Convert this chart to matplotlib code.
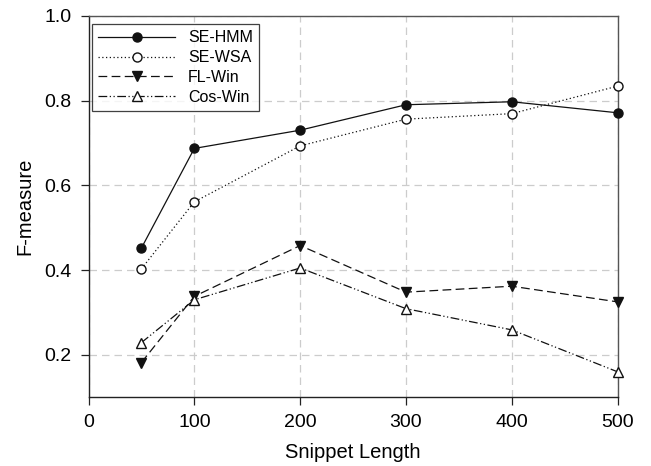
import matplotlib.pyplot as plt

plt.rcParams['font.family'] = ['Liberation Sans', 'DejaVu Sans']

snippet_len = [50, 100, 200, 300, 400, 500]
se_hmm = [0.452, 0.687, 0.730, 0.790, 0.797, 0.771]
se_wsa = [0.403, 0.561, 0.693, 0.756, 0.769, 0.834]
fl_win = [0.182, 0.338, 0.458, 0.348, 0.362, 0.325]
cos_win = [0.229, 0.330, 0.405, 0.309, 0.259, 0.160]

fig = plt.figure(figsize=(6.51, 4.66), dpi=100)
ax = fig.add_axes([88.5 / 651, 1 - 397.3 / 466, (617.7 - 88.5) / 651, (397.3 - 15.7) / 466])

lw = 0.9
ms = 6.5
ax.plot(snippet_len, se_hmm, color='#111111', lw=lw, ls='-', marker='o', ms=ms,
        mfc='#111111', mec='#111111', label='SE-HMM', zorder=5, clip_on=False)
ax.plot(snippet_len, se_wsa, color='#111111', lw=lw, ls=(0, (1, 2)), marker='o', ms=ms,
        mfc='white', mec='#111111', label='SE-WSA', zorder=5, clip_on=False)
ax.plot(snippet_len, fl_win, color='#111111', lw=lw, ls=(0, (7, 3.5)), marker='v', ms=ms + 0.5,
        mfc='#111111', mec='#111111', label='FL-Win', zorder=5, clip_on=False)
ax.plot(snippet_len, cos_win, color='#111111', lw=lw, ls=(0, (7, 2, 1, 2, 1, 2)), marker='^', ms=ms + 0.5,
        mfc='white', mec='#111111', label='Cos-Win', zorder=5, clip_on=False)

ax.set_xlim(0, 500)
ax.set_ylim(0.1, 1.0)
ax.set_xticks([0, 100, 200, 300, 400, 500])
ax.set_yticks([0.2, 0.4, 0.6, 0.8, 1.0])
ax.set_yticklabels(['0.2', '0.4', '0.6', '0.8', '1.0'])
ax.tick_params(labelsize=14, direction='out', length=6, width=0.9, color='#222222', pad=6)
ax.grid(True, color='#cccccc', ls=(0, (6, 4)), lw=0.9)
ax.set_axisbelow(True)

for side in ['left', 'bottom']:
    ax.spines[side].set_color('#222222')
    ax.spines[side].set_linewidth(1.0)
for side in ['top', 'right']:
    ax.spines[side].set_color('#555555')
    ax.spines[side].set_linewidth(1.0)

ax.set_xlabel('Snippet Length', fontsize=14.5, labelpad=9)
ax.set_ylabel('F-measure', fontsize=14.5, labelpad=7)

leg = ax.legend(loc='upper left', bbox_to_anchor=(0.0066, 0.978), fontsize=11.5, frameon=True,
                fancybox=False, edgecolor='#111111', handlelength=4.8, borderaxespad=0,
                labelspacing=0.3, handletextpad=0.8, borderpad=0.4)
leg.get_frame().set_linewidth(0.9)

fig.savefig('out.png', dpi=100)
